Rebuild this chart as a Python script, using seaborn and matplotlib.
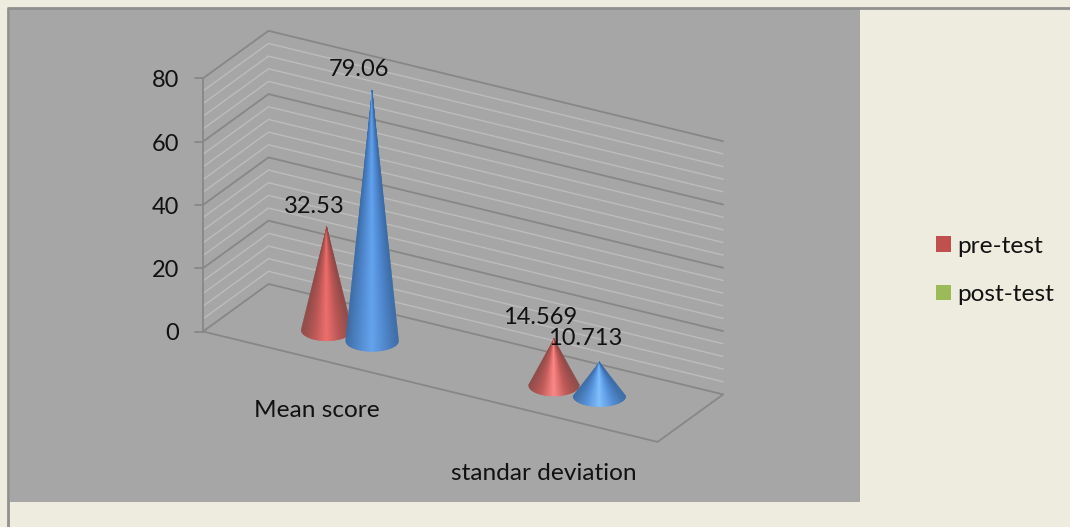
import numpy as np
import pandas as pd
import matplotlib
matplotlib.use("Agg")
import matplotlib.pyplot as plt
from matplotlib.collections import PolyCollection
from matplotlib.patches import Patch, Rectangle
import seaborn as sns

# ---- data ----
categories = ["Mean score", "standar deviation"]
series_names = ["pre-test", "post-test"]
pre_test = [32.53, 14.569]
post_test = [79.06, 10.713]
pre_labels = ["32.53", "14.569"]
post_labels = ["79.06", "10.713"]
y_ticks = [0, 20, 40, 60, 80]
minor_step = 4

# ---- styles ----
BG = "#eeebdf"
PANEL = "#a6a6a6"
MAJOR = "#878787"
MINOR = "#bcbcbc"
BORDER = "#8f8f8f"
LEGEND_COLORS = ["#c0504d", "#9bbb59"]
RED_RAMPS = [["#8f4a48", "#bb5654", "#f06e6c", "#bb5654", "#8f4a48"],
             ["#8f4a48", "#c25a58", "#ff8886", "#c25a58", "#8f4a48"]]
BLUE_RAMPS = [["#3c6ca6", "#4f88d0", "#62a4f0", "#4f88d0", "#3c6ca6"],
              ["#3c6ca6", "#5592dc", "#80c0ff", "#5592dc", "#3c6ca6"]]
FONT = "Lato"
FS = 17.0
FS_TEXT = 17.6
TEXT = "#111111"

sns.set_theme(style="white", rc={"font.family": FONT})

W, H = 1070, 527
fig = plt.figure(figsize=(W / 100, H / 100), dpi=100, facecolor=BG)
ax = fig.add_axes([0, 0, 1, 1])
ax.set_xlim(0, W)
ax.set_ylim(H, 0)
ax.axis("off")


# oblique projection: (category position, depth, value) -> canvas
def project(cat, depth, value):
    return (203 + 227.3 * cat + 65.5 * depth,
            331.5 + 55.2 * cat - 47.5 * depth - 3.165 * value)


ax.add_patch(Rectangle((10, 9), 850, 493, fc=PANEL, ec="none", zorder=0))
ax.plot([7.5, 7.5], [527, 7.5], color=BORDER, lw=2, zorder=1, solid_capstyle="butt")
ax.plot([7, 1070], [7.5, 7.5], color=BORDER, lw=2, zorder=1, solid_capstyle="butt")


def polyline(points, color, lw, z):
    df = pd.DataFrame(points, columns=["x", "y"])
    sns.lineplot(data=df, x="x", y="y", sort=False, estimator=None, color=color,
                 linewidth=lw, ax=ax, zorder=z, legend=False)


# walls
top = y_ticks[-1]
for v in np.arange(0, top + 1, minor_step):
    if v in y_ticks:
        continue
    polyline([project(0, 0, v), project(0, 1, v), project(2, 1, v)], MINOR, 1.0, 2)
for v in y_ticks:
    polyline([project(0, 0, v), project(0, 1, v), project(2, 1, v)], MAJOR, 1.3, 3)
    x0, y0 = project(0, 0, v)
    polyline([(x0 - 8, y0), (x0, y0)], MAJOR, 1.3, 3)
    ax.text(x0 - 24, y0 + 2.5, str(v), ha="right", va="center", fontsize=FS, color=TEXT)
polyline([project(0, 0, 0), project(0, 0, top)], MAJOR, 1.3, 3)
polyline([project(0, 0, 0), project(2, 0, 0), project(2, 1, 0)], MAJOR, 1.3, 3)


# cones
def cone(cat, depth, value, half_w, half_h, ramp, z):
    bx, by = project(cat, depth, 0)
    ax_, ay_ = project(cat, depth, value)
    n = 80
    cols = sns.blend_palette(ramp, n)
    ts = np.linspace(-1, 1, n + 1)
    polys = []
    for a, b in zip(ts[:-1], ts[1:]):
        polys.append([(ax_, ay_),
                      (bx + half_w * a, by + half_h * np.sqrt(1 - a * a)),
                      (bx + half_w * b, by + half_h * np.sqrt(1 - b * b))])
    ax.add_collection(PolyCollection(polys, facecolors=cols, edgecolors=cols,
                                     linewidths=0.3, zorder=z))
    return ax_, ay_


bar_off = 0.1
depth_mid = 0.5
pre_off = [(-12, -20), (-14, -21)]
post_off = [(-13, -21), (-14, -24)]
for i, (p, q) in enumerate(zip(pre_test, post_test)):
    x, y = cone(i + 0.5 - bar_off, depth_mid, p, 25.5, 11, RED_RAMPS[i], 5)
    ax.text(x + pre_off[i][0], y + pre_off[i][1], pre_labels[i], ha="center", va="center",
            fontsize=FS, color=TEXT, zorder=8)
    x, y = cone(i + 0.5 + bar_off, depth_mid, q, 26.5, 10.5, BLUE_RAMPS[i], 6)
    ax.text(x + post_off[i][0], y + post_off[i][1], post_labels[i], ha="center", va="center",
            fontsize=FS, color=TEXT, zorder=8)

# category labels
cat_drop = [51, 59]
for i, name in enumerate(categories):
    x, y = project(i + 0.5, 0, 0)
    ax.text(x, y + cat_drop[i], name, ha="center", va="center", fontsize=FS_TEXT, color=TEXT)

# legend
handles = [Patch(facecolor=c, edgecolor="none", label=n) for c, n in zip(LEGEND_COLORS, series_names)]
ax.legend(handles=handles, loc="center left", bbox_to_anchor=(936, 270.5),
          bbox_transform=ax.transData, frameon=False, fontsize=FS_TEXT, borderpad=0, borderaxespad=0,
          handlelength=0.61, handleheight=0.61, handletextpad=0.26, labelspacing=1.12,
          labelcolor=TEXT)

fig.savefig("out.png", dpi=100, facecolor=BG)
